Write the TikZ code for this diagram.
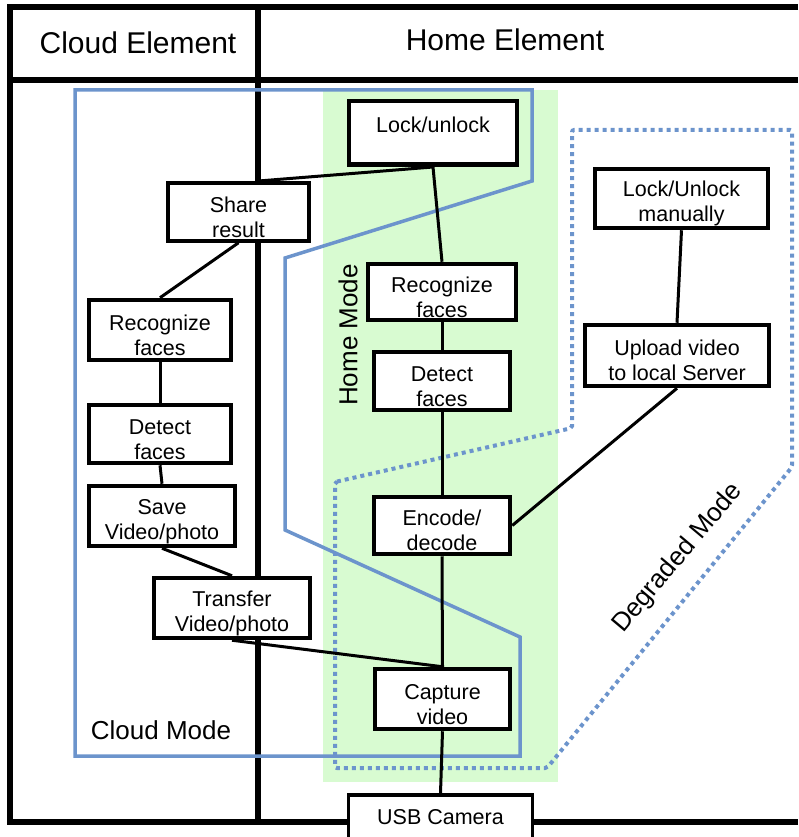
\documentclass[tikz,border=0pt]{standalone}
\usepackage{fontspec}
\setmainfont{Liberation Sans}
\usetikzlibrary{calc}
\definecolor{modeblue}{RGB}{108,148,204}
\definecolor{homegreen}{RGB}{216,251,209}
\newcommand\lowr{\rule{0pt}{25.5pt}}
\tikzset{
  frameline/.style={line width=5.5pt},
  box/.style={draw, line width=4.5pt, fill=white, inner sep=0pt, align=center,
    font=\fontsize{21.5}{25}\selectfont},
  thinbox/.style={box, line width=3.5pt},
  conn/.style={line width=3pt},
  cloudmode/.style={draw=modeblue, line width=3.5pt},
  degmode/.style={draw=modeblue, line width=4pt, dash pattern=on 4pt off 4pt, rounded corners=2pt},
  header/.style={font=\fontsize{30}{36}\selectfont},
  modelabel/.style={font=\fontsize{26}{30}\selectfont}
}
\begin{document}
\begin{tikzpicture}[x=1pt,y=-1pt]
\useasboundingbox (0,0) rectangle (798,837);
% frame
\draw[frameline] (798,7) -- (10,7) -- (10,822) -- (798,822);
\draw[frameline] (10,80) -- (798,80);
\draw[frameline] (258,7) -- (258,822);
% home mode area
\fill[homegreen] (323,90) rectangle (558,782);
% modes
\draw[degmode] (335,482) -- (572,428) -- (572,130) -- (792,130) -- (792,467) -- (547,768) -- (335,768) -- cycle;
\draw[cloudmode] (75,90) -- (532,90) -- (532,181) -- (285,258) -- (285,530) -- (520,637) -- (520,756) -- (75,756) -- cycle;
% headers and labels
\node[header] (cloudel) at (138,43) {Cloud Element};
\node[header] (homeel) at (505,40) {Home Element};
\node[modelabel] (cloudmodelbl) at (161,730) {Cloud Mode};
\node[modelabel, rotate=90] (homemodelbl) at (348,335) {Home Mode};
\node[modelabel, rotate=50] (degmodelbl) at (678,558) {Degraded Mode};
% boxes
\node[box, minimum width=168pt, minimum height=56pt] (lock) at (433,133) {\rule{0pt}{31pt}Lock/unlock\\\strut};
\node[thinbox, minimum width=141pt, minimum height=58pt] (share) at (238.5,212) {\lowr Share\\result};
\node[box, minimum width=142pt, minimum height=60pt] (recC) at (160,330) {\lowr Recognize\\faces};
\node[box, minimum width=142pt, minimum height=58pt] (detC) at (160,434) {\lowr Detect\\faces};
\node[box, minimum width=146pt, minimum height=60pt] (save) at (162,516) {\lowr Save\\Video/photo};
\node[box, minimum width=156pt, minimum height=60pt] (trans) at (232,608) {\lowr Transfer\\Video/photo};
\node[box, minimum width=148pt, minimum height=56pt] (recH) at (442,292) {\lowr Recognize\\faces};
\node[box, minimum width=136pt, minimum height=58pt] (detH) at (442,381) {\lowr Detect\\faces};
\node[box, minimum width=136pt, minimum height=57pt] (enc) at (442,525.5) {\lowr Encode/\\decode};
\node[box, minimum width=135pt, minimum height=60pt] (cap) at (442.5,699) {\lowr Capture\\video};
\node[thinbox, minimum width=184pt, minimum height=44pt] (usb) at (440.5,817) {USB Camera};
\node[box, minimum width=173pt, minimum height=59pt] (lockM) at (681.5,198.5) {\lowr Lock/Unlock\\manually};
\node[box, minimum width=184pt, minimum height=61pt] (upload) at (677,355.5) {\lowr Upload video\\to local Server};
% connectors
\draw[conn] (lock.south) -- ($(share.north)+(17,0)$);
\draw[conn] (lock.south) -- (recH.north);
\draw[conn] (share.south) -- (recC.north);
\draw[conn] (recC.south) -- (detC.north);
\draw[conn] (detC.south) -- (save.north);
\draw[conn] (save.south) -- (trans.north);
\draw[conn] (trans.south) -- (cap.north);
\draw[conn] (recH.south) -- (detH.north);
\draw[conn] (detH.south) -- (enc.north);
\draw[conn] (enc.south) -- (cap.north);
\draw[conn] (cap.south) -- (usb.north);
\draw[conn] (lockM.south) -- (upload.north);
\draw[conn] (upload.south) -- (enc.east);
\end{tikzpicture}
\end{document}
